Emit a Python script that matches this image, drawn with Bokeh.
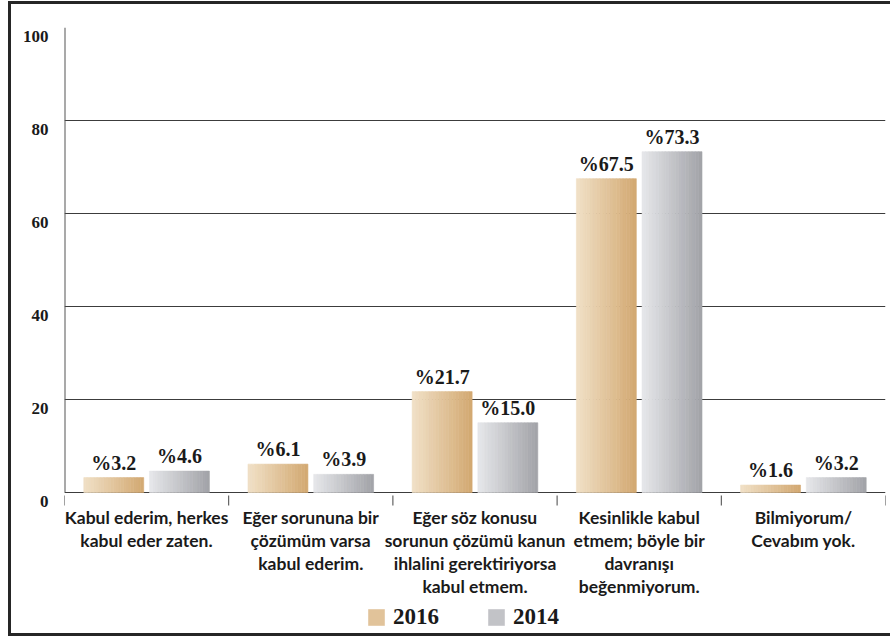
from bokeh.plotting import figure
from bokeh.models import (Range1d, FixedTicker, Legend, LegendItem, ColumnDataSource)
from bokeh.core.properties import value
from bokeh.embed import file_html
from bokeh.resources import INLINE

# ---------------- data ----------------
categories = [
    "Kabul ederim, herkes\nkabul eder zaten.",
    "Eğer sorununa bir\nçözümüm varsa\nkabul ederim.",
    "Eğer söz konusu\nsorunun çözümü kanun\nihlalini gerektiriyorsa\nkabul etmem.",
    "Kesinlikle kabul\netmem; böyle bir\ndavranışı\nbeğenmiyorum.",
    "Bilmiyorum/\nCevabım yok.",
]
series_names = ["2016", "2014"]
values_2016 = [3.2, 6.1, 21.7, 67.5, 1.6]
values_2014 = [4.6, 3.9, 15.0, 73.3, 3.2]
y_ticks = [0, 20, 40, 60, 80, 100]

# ---------------- styles / layout ----------------
BAR_W = 0.365
OFFSETS = [-0.2, 0.2]
GRAD = {
    "2016": ((240, 223, 197), (211, 170, 115)),
    "2014": ((229, 230, 233), (163, 164, 169)),
}
N_STRIPS = 18
SERIF = "Liberation Serif"
SANS = "Lato"
PLOT_PX = 465          # pixel height of the 0..100 value band
BELOW_PX = 141         # pixel room under the zero line (labels + legend)
PX = 100.0 / PLOT_PX   # one pixel in data units


def hexcol(c):
    return "#%02x%02x%02x" % tuple(int(round(v)) for v in c)


p = figure(frame_width=821, frame_height=PLOT_PX + BELOW_PX, output_backend="svg",
           toolbar_location=None,
           x_range=Range1d(0.5, len(categories) + 0.5),
           y_range=Range1d(-BELOW_PX * PX, 100),
           x_axis_location=None, min_border_left=53, min_border_right=5,
           min_border_top=23, min_border_bottom=0)
p.styles = {"margin-left": "8px", "margin-top": "1px",
            "border-left": "3px solid #262626", "border-top": "3px solid #262626",
            "border-bottom": "3px solid #262626"}
p.outline_line_color = None
p.background_fill_color = "white"
p.border_fill_color = "white"

# y axis
yax = p.yaxis[0]
yax.ticker = FixedTicker(ticks=y_ticks)
yax.major_label_overrides = {t: "\n" + str(t) for t in y_ticks}
yax.major_tick_line_color = None
yax.minor_tick_line_color = None
yax.axis_line_color = None
yax.major_label_standoff = 10
yax.major_label_text_font = SERIF
yax.major_label_text_font_style = "bold"
yax.major_label_text_font_size = "17px"
yax.major_label_text_color = "#1a1a1a"
yax.major_label_text_line_height = 0.95

p.ygrid.ticker = FixedTicker(ticks=y_ticks)
p.ygrid.grid_line_color = "#3c3c3c"
p.ygrid.grid_line_width = 1
p.xgrid.visible = False

# left value-axis line (from 0 to 100 only)
p.segment(x0=[0.5], y0=[y_ticks[0]], x1=[0.5], y1=[y_ticks[-1]],
          line_color="#555555", line_width=2)

# category boundary tick marks under the zero line
bounds = [i + 0.5 for i in range(len(categories) + 1)]
p.segment(x0=bounds, y0=[-3 * PX] * len(bounds), x1=bounds,
          y1=[-13 * PX] * len(bounds), line_color="#444444", line_width=1)

# category labels
pos = list(range(1, len(categories) + 1))
p.text(x=pos, y=[-14 * PX] * len(pos), text=categories, text_align="center",
       text_baseline="top", text_font=value(SANS), text_font_style="bold",
       text_font_size="17.5px", text_color="#1a1a1a", text_line_height=1.1)

# bars with horizontal gradient made of thin strips
legend_items = []
for name, vals, off in zip(series_names, [values_2016, values_2014], OFFSETS):
    c0, c1 = GRAD[name]
    xs, tops, cols = [], [], []
    sw = BAR_W / N_STRIPS
    for i, v in enumerate(vals):
        left = pos[i] + off - BAR_W / 2
        for k in range(N_STRIPS):
            t = k / (N_STRIPS - 1)
            xs.append(left + (k + 0.5) * sw)
            tops.append(v)
            cols.append(hexcol([a + (b - a) * t for a, b in zip(c0, c1)]))
    src = ColumnDataSource(dict(x=xs, top=tops, color=cols))
    r = p.vbar(x="x", top="top", bottom=0, width=sw, source=src,
               fill_color="color", line_color="color", line_width=0.6)
    legend_items.append(LegendItem(label=name, renderers=[r], index=N_STRIPS // 2))

    lsrc = ColumnDataSource(dict(x=[pp + off for pp in pos], y=vals,
                                 t=["%" + f"{v:.1f}" for v in vals]))
    p.text(x="x", y="y", text="t", source=lsrc, text_align="center",
           text_baseline="alphabetic", y_offset=-15,
           text_font=value(SERIF), text_font_style="bold",
           text_font_size="20px", text_color="#1a1a1a")

legend = Legend(items=legend_items, orientation="horizontal", location=(302, 3),
                label_text_font=SERIF, label_text_font_style="bold",
                label_text_font_size="23px", label_text_color="#1a1a1a",
                glyph_width=20, glyph_height=20, spacing=47, label_standoff=7,
                border_line_color=None, background_fill_alpha=0,
                margin=0, padding=4)
p.add_layout(legend, "center")

open("out.html", "w").write(file_html(p, INLINE))
